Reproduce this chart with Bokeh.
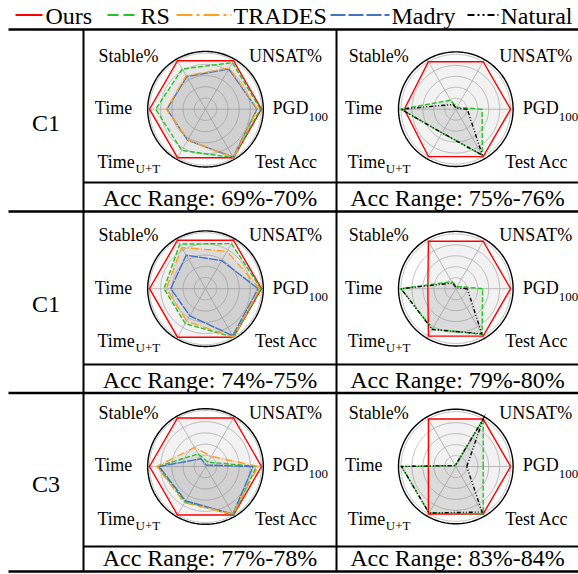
import numpy as np
from bokeh.plotting import figure
from bokeh.models import Range1d
from bokeh.core.properties import value
from bokeh.embed import file_html
from bokeh.resources import INLINE

# ---------------- data ----------------
series_names = ["Ours", "RS", "TRADES", "Madry", "Natural"]
axis_names = ["PGD", "UNSAT%", "Stable%", "Time", "Time", "Test Acc"]
axis_subscripts = ["100", "", "", "", "U+T", ""]
row_labels = ["C1", "C1", "C3"]
acc_ranges = ["Acc Range: 69%-70%", "Acc Range: 75%-76%",
              "Acc Range: 74%-75%", "Acc Range: 79%-80%",
              "Acc Range: 77%-78%", "Acc Range: 83%-84%"]

# values in axis order: PGD100, UNSAT%, Stable%, Time, Time_U+T, Test Acc
ours_1a = [1.0, 1.0, 1.0, 1.0, 1.0, 1.0]
rs_1a = [0.98, 0.96, 0.83, 0.89, 0.85, 1.0]
trades_1a = [0.93, 0.85, 0.69, 0.70, 0.63, 1.0]
madry_1a = [0.92, 0.83, 0.67, 0.69, 0.64, 0.99]

ours_1b = [1.0, 1.0, 1.0, 0.94, 1.0, 1.0]
rs_1b = [0.48, 0.04, 0.19, 1.0, 0.5, 0.97]
natural_1b = [0.21, 0.02, 0.10, 1.0, 0.5, 0.97]

ours_2a = [1.0, 1.0, 1.0, 1.0, 1.0, 1.0]
rs_2a = [0.99, 0.93, 0.92, 0.74, 0.72, 1.0]
trades_2a = [0.97, 0.77, 0.85, 0.70, 0.67, 1.0]
madry_2a = [0.94, 0.58, 0.69, 0.62, 0.56, 0.97]

ours_2b = [1.0, 1.0, 1.0, 0.51, 1.0, 1.0]
rs_2b = [0.49, 0.05, 0.15, 1.0, 0.85, 0.96]
natural_2b = [0.21, 0.02, 0.12, 1.0, 0.86, 0.95]

ours_3a = [1.0, 1.0, 1.0, 1.0, 1.0, 1.0]
rs_3a = [0.91, 0.09, 0.26, 0.85, 0.73, 1.0]
trades_3a = [0.94, 0.21, 0.39, 0.87, 0.75, 0.98]
madry_3a = [0.85, 0.03, 0.16, 0.83, 0.71, 0.98]

ours_3b = [1.0, 1.0, 1.0, 0.5, 1.0, 1.0]
rs_3b = [0.5, 1.0, 0.02, 0.99, 0.98, 1.0]
natural_3b = [0.2, 1.0, 0.02, 0.99, 0.98, 0.96]

charts = [
    {"Ours": ours_1a, "RS": rs_1a, "Madry": madry_1a, "TRADES": trades_1a},
    {"Ours": ours_1b, "RS": rs_1b, "Natural": natural_1b},
    {"Ours": ours_2a, "RS": rs_2a, "Madry": madry_2a, "TRADES": trades_2a},
    {"Ours": ours_2b, "RS": rs_2b, "Natural": natural_2b},
    {"Ours": ours_3a, "RS": rs_3a, "Madry": madry_3a, "TRADES": trades_3a},
    {"Ours": ours_3b, "RS": rs_3b, "Natural": natural_3b},
]

# ---------------- styles / layout ----------------
colors = {"Ours": "#ff0000", "RS": "#22c322", "TRADES": "#ffa020",
          "Madry": "#4472c4", "Natural": "#000000"}
dash_plot = {"Ours": "solid", "RS": "5 2", "TRADES": "8 2 1 2",
             "Madry": "9 1", "Natural": "4 2 1 2 1 2"}
dash_leg = {"Ours": "solid", "RS": "11 5", "TRADES": "16 4 3 4",
            "Madry": "15 3", "Natural": "7 3 2 3 2 3"}
leg_line_x = {"Ours": (15, 42), "RS": (107, 137), "TRADES": (176, 231),
              "Madry": (330, 389), "Natural": (467, 498)}
leg_text_x = {"Ours": 45, "RS": 140, "TRADES": 233, "Madry": 391, "Natural": 500}

FONT = value("Liberation Serif")
col_x = [8, 83, 336, 578]
row_top = [29, 211, 392.5]
row_bottom = [211, 392.5, 571]
inner_y = [182, 364, 546]
centers_x = [205, 455.3]
centers_y = [108.7, 288.2, 466]
R = [56, 54.8]
R_frame = [57.8, 57.3]
angles = np.deg2rad([0, 60, 120, 180, 240, 300])

p = figure(width=578, height=574, x_range=Range1d(0, 578), y_range=Range1d(574, 0),
           output_backend="svg", toolbar_location=None, min_border=0,
           x_axis_location=None, y_axis_location=None)
p.grid.visible = False
p.outline_line_color = None
p.background_fill_color = "white"
p.border_fill_color = "white"


def label(x, y, s, size, align="center"):
    p.text(x=[x], y=[y], text=[s], text_font=FONT, text_font_size=value(size),
           text_align=align, text_baseline="middle", text_color="black")


# ---------------- legend ----------------
for name in series_names:
    x0, x1 = leg_line_x[name]
    p.line([x0, x1], [14.5, 14.5], line_color=colors[name], line_width=2.2,
           line_dash=dash_leg[name])
    label(leg_text_x[name], 15, name, "24px", "left")

# ---------------- table rules ----------------
thick_y = [row_top[0], row_top[1], row_top[2], row_bottom[2]]
p.segment(x0=[col_x[0]] * 4, x1=[col_x[3]] * 4, y0=thick_y, y1=thick_y,
          line_color="black", line_width=2.3)
p.segment(x0=[col_x[1]] * 3, x1=[col_x[3]] * 3, y0=inner_y, y1=inner_y,
          line_color="black", line_width=1.8)
p.segment(x0=[col_x[1], col_x[2]], x1=[col_x[1], col_x[2]],
          y0=[row_top[0]] * 2, y1=[row_bottom[2]] * 2,
          line_color="black", line_width=2)

for r in range(3):
    label((col_x[0] + col_x[1]) / 2, (row_top[r] + row_bottom[r]) / 2 + 2,
          row_labels[r], "24px")

# ---------------- radars ----------------
t = np.linspace(0, 2 * np.pi, 241)
draw_order = ["Ours", "RS", "Madry", "TRADES", "Natural"]
for idx, chart in enumerate(charts):
    r, c = divmod(idx, 2)
    cx, cy = centers_x[c], centers_y[r]
    Rm, Rf = R[c], R_frame[c]
    # grid circles
    for g in [0.2, 0.4, 0.6, 0.8, 1.0]:
        p.line(cx + g * Rm * np.cos(t), cy - g * Rm * np.sin(t),
               line_color="#b0b0b0", line_width=0.8)
    # spokes
    p.segment(x0=[cx] * 6, y0=[cy] * 6,
              x1=list(cx + Rf * np.cos(angles)), y1=list(cy - Rf * np.sin(angles)),
              line_color="#b0b0b0", line_width=0.8)
    # fills
    polys = {}
    for name in draw_order:
        if name not in chart:
            continue
        v = np.array(chart[name])
        xs = cx + Rm * v * np.cos(angles)
        ys = cy - Rm * v * np.sin(angles)
        polys[name] = (xs, ys)
        p.patch(list(xs), list(ys), fill_color="#808080", fill_alpha=0.1,
                line_color=None)
    for name in draw_order:
        if name not in polys:
            continue
        xs, ys = polys[name]
        p.line(list(xs) + [xs[0]], list(ys) + [ys[0]], line_color=colors[name],
               line_width=1.4, line_dash=dash_plot[name], line_join="miter")
    # frame
    p.line(cx + Rf * np.cos(t), cy - Rf * np.sin(t), line_color="black", line_width=1.4)

    # axis labels
    lab_x = [cx + 67, cx + 80, cx - 77, cx - 92, cx - 108, cx + 81]
    lab_y = [cy - 1.2, cy - 53.7, cy - 53.7, cy - 1.2, cy + 52.5, cy + 52.5]
    aligns = ["left", "center", "center", "center", "left", "center"]
    for k in range(6):
        label(lab_x[k], lab_y[k], axis_names[k], "18px", aligns[k])
    label(cx + 103, cy + 7.8, axis_subscripts[0], "13px", "left")
    label(cx - 70, cy + 58.8, axis_subscripts[4], "13px", "left")

    # acc range
    label((col_x[c + 1] + col_x[c + 2]) / 2, row_bottom[r] - 13.5, acc_ranges[idx], "24px")

open("out.html", "w").write(file_html(p, INLINE))
